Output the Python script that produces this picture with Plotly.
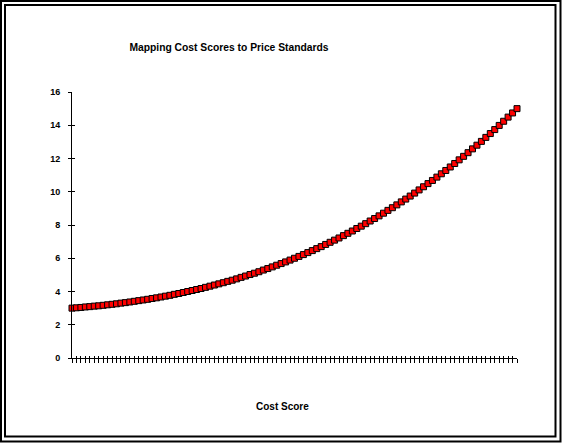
import plotly.graph_objects as go

# ---- data ----
cost_score = list(range(0, 101))
price_standard = [
    3.00, 3.02, 3.04, 3.07, 3.09, 3.12, 3.14, 3.17, 3.20, 3.23,
    3.26, 3.30, 3.33, 3.37, 3.41, 3.45, 3.49, 3.53, 3.58, 3.62,
    3.67, 3.72, 3.77, 3.83, 3.88, 3.94, 4.00, 4.06, 4.12, 4.18,
    4.25, 4.32, 4.39, 4.46, 4.53, 4.61, 4.68, 4.76, 4.85, 4.93,
    5.02, 5.10, 5.19, 5.29, 5.38, 5.48, 5.58, 5.68, 5.78, 5.89,
    6.00, 6.11, 6.22, 6.34, 6.46, 6.58, 6.70, 6.83, 6.96, 7.09,
    7.22, 7.36, 7.50, 7.64, 7.79, 7.93, 8.08, 8.24, 8.39, 8.55,
    8.71, 8.88, 9.04, 9.21, 9.39, 9.56, 9.74, 9.92, 10.11, 10.30,
    10.49, 10.68, 10.88, 11.08, 11.28, 11.49, 11.70, 11.92, 12.13, 12.35,
    12.58, 12.80, 13.03, 13.27, 13.50, 13.74, 13.99, 14.24, 14.49, 14.74,
    15.00,
]
y_ticks = [0, 2, 4, 6, 8, 10, 12, 14, 16]
title_text = "Mapping Cost Scores to Price Standards"
x_title = "Cost Score"

W, H = 562, 443
L, R, T, B = 72, 45, 92, 85
PW, PH = W - L - R, H - T - B

def px(x):
    return (x - L) / PW

def py(y):
    return (H - B - y) / PH

FONT = "Liberation Sans, Arial, sans-serif"

fig = go.Figure()
fig.add_trace(go.Scatter(
    x=cost_score, y=price_standard, mode="markers",
    marker=dict(symbol="square", size=6, color="#ff0000",
                line=dict(color="black", width=1)),
    cliponaxis=False, showlegend=False,
))
# invisible trace to activate the secondary (inside-tick) axes
fig.add_trace(go.Scatter(x=[None], y=[None], xaxis="x2", yaxis="y2",
                         showlegend=False, hoverinfo="skip"))

axis_common = dict(showgrid=False, zeroline=False)
fig.update_layout(
    width=W, height=H,
    margin=dict(l=L, r=R, t=T, b=B, pad=0),
    paper_bgcolor="white", plot_bgcolor="white",
    title=dict(text=title_text, x=229 / W, xref="container",
               xanchor="center", y=1 - 47 / H, yanchor="middle",
               font=dict(family=FONT, size=10.3, color="black", weight="bold")),
    xaxis=dict(range=[0, 100], tickmode="linear", tick0=0, dtick=1,
               showticklabels=False, ticks="outside", ticklen=4, tickwidth=1,
               tickcolor="black", showline=True, linecolor="black", linewidth=1,
               **axis_common),
    xaxis2=dict(range=[0, 100], overlaying="x", side="bottom", anchor="y",
                tickmode="linear", tick0=0, dtick=1, showticklabels=False,
                ticks="inside", ticklen=2, tickwidth=1, tickcolor="black",
                showline=False, **axis_common),
    yaxis=dict(range=[0, 16], tickmode="array", tickvals=y_ticks,
               ticks="outside", ticklen=3, tickwidth=1, tickcolor="black",
               showline=True, linecolor="black", linewidth=1,
               tickfont=dict(family=FONT, size=9, color="black", weight="bold"),
               ticklabelstandoff=6, **axis_common),
    yaxis2=dict(range=[0, 16], overlaying="y", side="left", anchor="x",
                tickmode="array", tickvals=y_ticks, showticklabels=False,
                ticks="inside", ticklen=3, tickwidth=1, tickcolor="black",
                showline=False, **axis_common),
    annotations=[dict(text=x_title, x=px(282), y=py(406), xref="paper", yref="paper",
                      xanchor="center", yanchor="middle", showarrow=False,
                      font=dict(family=FONT, size=10, color="black", weight="bold"))],
    shapes=[
        dict(type="rect", xref="paper", yref="paper",
             x0=px(1), x1=px(560.5), y0=py(1), y1=py(441.5),
             line=dict(color="black", width=2), fillcolor="rgba(0,0,0,0)", layer="above"),
        dict(type="rect", xref="paper", yref="paper",
             x0=px(5), x1=px(555.5), y0=py(5), y1=py(436.5),
             line=dict(color="black", width=2), fillcolor="rgba(0,0,0,0)", layer="above"),
    ],
)

fig.write_html("out.html", config={"displayModeBar": False},
               post_script="document.body.style.margin='0';document.body.style.overflow='hidden';")
